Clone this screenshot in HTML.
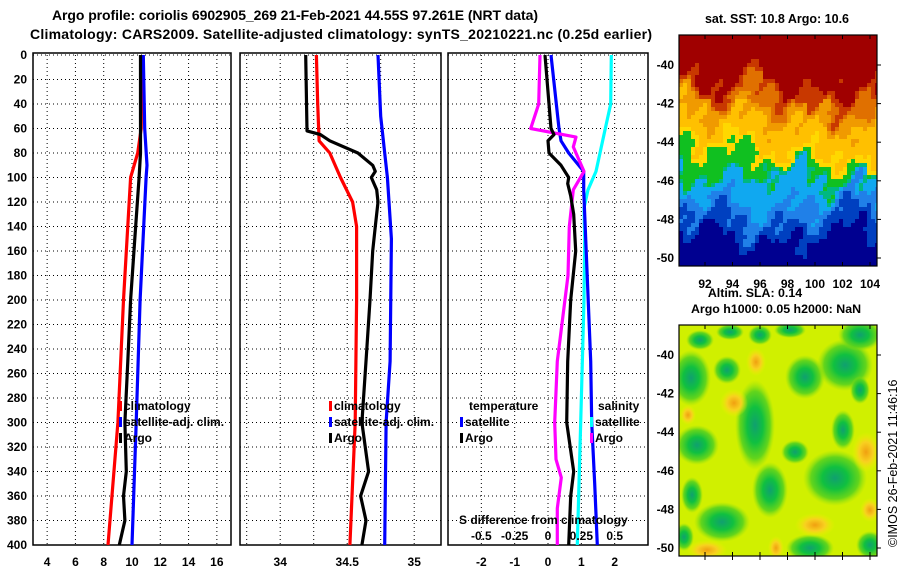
<!DOCTYPE html>
<html><head><meta charset="utf-8"><style>
body{margin:0;background:#fff;}
svg text{font-family:"Liberation Sans",sans-serif;font-weight:bold;}
</style></head><body>
<svg id="c" width="900" height="580" viewBox="0 0 900 580" xmlns="http://www.w3.org/2000/svg">
<defs>
<radialGradient id="gb"><stop offset="0" stop-color="#10a070"/><stop offset="0.4" stop-color="#10c040"/><stop offset="0.75" stop-color="#50d020" stop-opacity="0.85"/><stop offset="1" stop-color="#90e010" stop-opacity="0"/></radialGradient>
<radialGradient id="go"><stop offset="0" stop-color="#f0a010"/><stop offset="0.5" stop-color="#f8d020"/><stop offset="1" stop-color="#f0f000" stop-opacity="0"/></radialGradient>
<clipPath id="clipSla"><rect x="679" y="325" width="198" height="231"/></clipPath>
<clipPath id="clipSst"><rect x="679" y="35" width="198" height="231"/></clipPath>
</defs>
<text x="295" y="20" font-size="14" text-anchor="middle" textLength="486">Argo profile: coriolis 6902905_269 21-Feb-2021 44.55S 97.261E (NRT data)</text>
<text x="341" y="39" font-size="14" text-anchor="middle" textLength="622">Climatology: CARS2009. Satellite-adjusted climatology: synTS_20210221.nc (0.25d earlier)</text>
<g id="plots"></g>
<g id="maps"></g>
<text x="777" y="23" font-size="12.5" text-anchor="middle">sat. SST: 10.8 Argo: 10.6</text>
<text x="755" y="297" font-size="12.4" text-anchor="middle">Altim. SLA: 0.14</text>
<text x="776" y="313" font-size="12.4" text-anchor="middle">Argo h1000: 0.05 h2000: NaN</text>
<text x="0" y="0" font-size="12.5" transform="translate(897,547) rotate(-90)" style="font-weight:normal">©IMOS 26-Feb-2021 11:46:16</text>
</svg>
<script>
// ---- data ----
const depthTicks=[0,20,40,60,80,100,120,140,160,180,200,220,240,260,280,300,320,340,360,380,400];
const tTicks=[4,6,8,10,12,14,16];
const sTicks=[34,34.5,35];
const sGrid=[33.75,34,34.25,34.5,34.75,35];
const dTicks=[-2,-1,0,1,2];
const sdTicks=[-0.5,-0.25,0,0.25,0.5];
const sdTickLabels=["-0.5","-0.25","0","0.25","0.5"];
const climTDepth=[0,60,80,100,200,300,400];
const climT=[10.7,10.65,10.4,9.9,9.4,9.0,8.3];
const satTDepth=[0,60,90,100,200,300,400];
const satT=[10.8,10.9,11.06,11.0,10.57,10.3,10.0];
const argoTDepth=[0,60,80,100,150,200,250,300,340,360,380,400];
const argoT=[10.6,10.6,10.6,10.5,10.2,9.9,9.7,9.5,9.6,9.4,9.5,9.1];
const argoSDepth=[0,62,65,70,80,90,95,100,110,120,140,160,200,250,300,340,360,380,400];
const argoS=[34.19,34.2,34.3,34.37,34.58,34.69,34.71,34.68,34.72,34.73,34.71,34.69,34.67,34.64,34.61,34.66,34.6,34.64,34.61];
const climSDepth=[0,40,70,80,100,120,140,200,300,400];
const climS=[34.27,34.28,34.29,34.37,34.45,34.54,34.57,34.57,34.56,34.52];
const satSDepth=[0,50,80,100,150,250,300,400];
const satS=[34.73,34.75,34.78,34.8,34.83,34.82,34.79,34.78];
const dTDepth=[0,60,65,70,80,90,100,105,115,130,160,200,250,300,340,360,400];
const argoDT=[-0.09,0.09,0.18,0.0,0.03,0.39,0.62,0.59,0.68,0.77,0.83,0.68,0.59,0.56,0.77,0.68,0.62];
const satDTDepth=[0,60,70,80,95,110,150,250,300,350,400];
const satDT=[0.09,0.33,0.39,0.62,1.07,1.07,1.13,1.28,1.31,1.4,1.48];
const argoDSDepth=[0,40,60,67,75,95,110,140,180,250,300,330,345,370,400];
const argoDS=[-0.06,-0.07,-0.13,0.21,0.19,0.27,0.19,0.16,0.15,0.07,0.05,0.06,0.1,0.07,0.07];
const satDSDepth=[0,40,60,80,95,110,125,150,200,300,400];
const satDS=[0.475,0.47,0.43,0.39,0.36,0.3,0.27,0.275,0.27,0.245,0.22];
const latLabels=["-40","-42","-44","-46","-48","-50"];
const lonLabels=["92","94","96","98","100","102","104"];

const NS="http://www.w3.org/2000/svg";
function mk(t,a,p){const e=document.createElementNS(NS,t);for(const k in a)e.setAttribute(k,a[k]);(p||document.getElementById('plots')).appendChild(e);return e;}
const Y=d=>55+d*1.225;
const TOPY=55,BOTY=545;
const panels=[
 {x0:33,x1:231,min:3,max:17},
 {x0:240,x1:441,min:33.7,max:35.2},
 {x0:448,x1:648,min:-3,max:3}];
function X(p,v){const P=panels[p];return P.x0+(v-P.min)/(P.max-P.min)*(P.x1-P.x0);}
function grid(p,vals){
 const P=panels[p];
 depthTicks.forEach(d=>{const l=mk('line',{x1:P.x0,x2:P.x1,y1:Y(d),y2:Y(d),stroke:'#000','stroke-width':1,'stroke-dasharray':'1,3'});
 });
 vals.forEach(v=>{const l=mk('line',{x1:X(p,v),x2:X(p,v),y1:TOPY,y2:BOTY,stroke:'#000','stroke-width':1,'stroke-dasharray':'1,3'});
 });
 const r=mk('rect',{x:P.x0,y:TOPY-2,width:P.x1-P.x0,height:BOTY-TOPY+2,fill:'none',stroke:'#000','stroke-width':1.5});
 
}
grid(0,tTicks);grid(1,sGrid);grid(2,dTicks);
depthTicks.forEach(d=>{const t=mk('text',{x:27,y:Y(d)+4,'font-size':12,'text-anchor':'end'});t.textContent=d;
});
tTicks.forEach(v=>{const t=mk('text',{x:X(0,v),y:566,'font-size':12,'text-anchor':'middle'});t.textContent=v;
});
sTicks.forEach(v=>{const t=mk('text',{x:X(1,v),y:566,'font-size':12,'text-anchor':'middle'});t.textContent=v;
});
dTicks.forEach(v=>{const t=mk('text',{x:X(2,v),y:566,'font-size':12,'text-anchor':'middle'});t.textContent=v;
});
function line(p,vals,deps,color,name,scale){
 const pts=vals.map((v,i)=>X(p,v*(scale||1)).toFixed(1)+','+Y(deps[i]).toFixed(1)).join(' ');
 const l=mk('polyline',{points:pts,fill:'none',stroke:color,'stroke-width':3.2,'stroke-linejoin':'round'});
 
}
line(0,climT,climTDepth,'#ff0000','climatology-temp-line');
line(0,satT,satTDepth,'#0000ff','satellite-temp-line');
line(0,argoT,argoTDepth,'#000000','argo-temp-line');
line(1,climS,climSDepth,'#ff0000','climatology-sal-line');
line(1,satS,satSDepth,'#0000ff','satellite-sal-line');
line(1,argoS,argoSDepth,'#000000','argo-sal-line');
line(2,satDS,satDSDepth,'#00ffff','satellite-sal-diff-line',4);
line(2,satDT,satDTDepth,'#0000ff','satellite-temp-diff-line');
line(2,argoDS,argoDSDepth,'#ff00ff','argo-sal-diff-line',4);
line(2,argoDT,dTDepth,'#000000','argo-temp-diff-line');
function leg(x,y,color,label,name){
 if(color){const m=mk('rect',{x:x,y:y-9,width:3,height:10,fill:color});}
 const t=mk('text',{x:x+5,y:y,'font-size':12});t.textContent=label;
}
leg(119,410,'#ff0000','climatology','legend-climatology');
leg(119,426,'#0000ff','satellite-adj. clim.','legend-satellite');
leg(119,442,'#000','Argo','legend-argo');
leg(329,410,'#ff0000','climatology','legend2-climatology');
leg(329,426,'#0000ff','satellite-adj. clim.','legend2-satellite');
leg(329,442,'#000','Argo','legend2-argo');
leg(464,410,null,'temperature','legend3-temperature');
leg(460,426,'#0000ff','satellite','legend3-temp-satellite');
leg(460,442,'#000','Argo','legend3-temp-argo');
leg(593,410,null,'salinity','legend3-salinity');
leg(590,426,'#00ffff','satellite','legend3-sal-satellite');
leg(590,442,'#ff00ff','Argo','legend3-sal-argo');
const sdt=mk('text',{x:459,y:524,'font-size':12});sdt.textContent='S difference from climatology';

sdTicks.forEach((v,i)=>{const t=mk('text',{x:X(2,v*4),y:540,'font-size':12,'text-anchor':'middle'});t.textContent=sdTickLabels[i];
});

// ---- maps ----
const M=document.getElementById('maps');
function mm(t,a){return mk(t,a,M);}
const sstG=mm('g',{'clip-path':'url(#clipSst)'});

let html='';
for(let yy=35;yy<266;yy+=4){for(let xx=679;xx<877;xx+=4){
 const u=(xx-679)/198,v=(yy-35)/231;
 const n=0.045*Math.sin(u*19+v*5)+0.035*Math.sin(u*41+v*23+2)+0.025*Math.sin(v*37-u*29)+0.02*Math.sin(u*73+v*61);
 const w=v+n;
 let c;
 const b1=0.16+0.1*u+0.04*Math.sin(u*12);
 const b2=0.26+0.1*u;
 const b3=0.45+0.14*u+0.02*Math.sin(u*15);
 const b4=0.6+0.03*Math.sin(u*9)+0.02*u;
 const b5=0.79-0.04*Math.sin(u*8+1);
 if(w<b1)c='#a00000';
 else if(w<b1+0.05)c='#c83800';
 else if(w<b2)c='#e07000';
 else if(w<b2+0.06)c='#f09a00';
 else if(w<b3-0.04)c='#ffc000';
 else if(w<b3)c='#ffd800';
 else if(w<b4-0.02)c='#10c020';
 else if(w<b4)c='#00b880';
 else if(w<b5-0.08)c='#10a8f0';
 else if(w<b5)c='#2080e8';
 else if(w<b5+0.07)c='#0040c0';
 else c='#000090';
 html+='<rect x="'+xx+'" y="'+yy+'" width="4" height="4" fill="'+c+'"/>';
}}
sstG.innerHTML=html;
const fr1=mm('rect',{x:679,y:35,width:198,height:231,fill:'none',stroke:'#000','stroke-width':1.2});

const slaG=mm('g',{'clip-path':'url(#clipSla)'});

const blobs=[[691,378,20,28,'gb'],[727,370,14,14,'gb'],[697,445,22,20,'gb'],[755,425,20,45,'gb'],[770,490,18,28,'gb'],[805,377,20,22,'gb'],[845,365,28,26,'gb'],[860,335,22,16,'gb'],[835,478,32,28,'gb'],[692,495,11,18,'gb'],[722,522,28,20,'gb'],[810,548,24,14,'gb'],[843,430,12,20,'gb'],[795,452,14,12,'gb'],[700,340,14,10,'gb'],[730,332,14,8,'gb'],[684,537,10,14,'gb'],[760,335,12,10,'gb'],[790,330,16,8,'gb'],[870,545,14,14,'gb'],[860,390,10,14,'gb'],
 [866,452,14,20,'go'],[707,550,20,10,'go'],[815,525,20,12,'go'],[734,403,14,14,'go'],[756,362,10,14,'go'],[776,548,8,12,'go'],[688,415,8,10,'go'],[870,510,10,12,'go']];
let h2='<rect x="679" y="325" width="198" height="231" fill="#d0f000"/>';
blobs.forEach(b=>{h2+='<ellipse cx="'+b[0]+'" cy="'+b[1]+'" rx="'+b[2]+'" ry="'+b[3]+'" fill="url(#'+b[4]+')"/>';});
slaG.innerHTML=h2;
const fr2=mm('rect',{x:679,y:325,width:198,height:231,fill:'none',stroke:'#000','stroke-width':1.2});

latLabels.forEach((s,i)=>{
 const t=mm('text',{x:674,y:69+i*38.6,'font-size':12,'text-anchor':'end'});t.textContent=s;
 
 const t2=mm('text',{x:674,y:359+i*38.6,'font-size':12,'text-anchor':'end'});t2.textContent=s;
 
 [65+i*38.6,355+i*38.6].forEach(yy=>{const k=mm('line',{x1:877,x2:881,y1:yy,y2:yy,stroke:'#000'});
 });
});
lonLabels.forEach((s,i)=>{
 const x=705+i*27.5;
 const t=mm('text',{x:x,y:288,'font-size':12,'text-anchor':'middle'});t.textContent=s;
 
 [[35,39],[262,266],[325,329],[552,560]].forEach(r=>{const k=mm('line',{x1:x,x2:x,y1:r[0],y2:r[1],stroke:'#000'});
 });
});
</script>
</body></html>
